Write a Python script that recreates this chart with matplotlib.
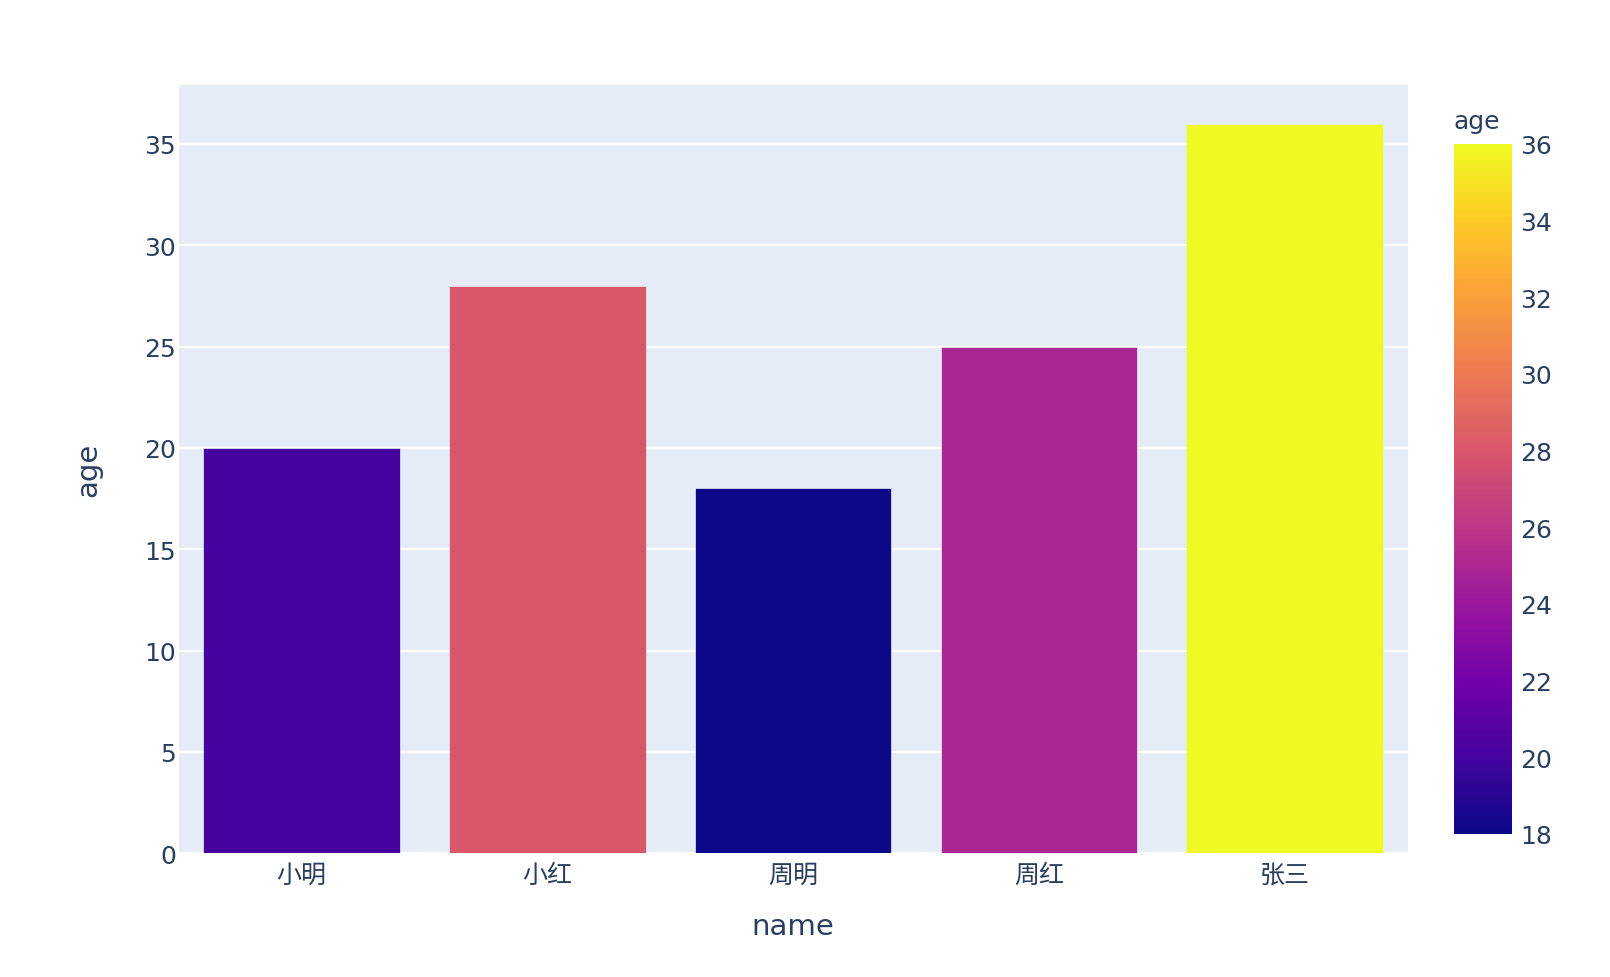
import matplotlib.pyplot as plt
import matplotlib as mpl
import numpy as np
from matplotlib.colors import LinearSegmentedColormap, Normalize

plt.rcParams['font.family'] = ['DejaVu Sans', 'Noto Sans CJK SC']

names = ['小明', '小红', '周明', '周红', '张三']
ages = [20, 28, 18, 25, 36]

# plotly's plasma scale
plasma_stops = ["#0d0887", "#46039f", "#7201a8", "#9c179e", "#bd3786",
                "#d8576b", "#ed7953", "#fb9f3a", "#fdca26", "#f0f921"]
cmap = LinearSegmentedColormap.from_list('plotly_plasma', plasma_stops)
norm = Normalize(vmin=min(ages), vmax=max(ages))

text_col = '#2a3f5f'
bg = '#e5ecf6'

fig = plt.figure(figsize=(16.1, 9.78), dpi=100)
ax = fig.add_axes([0.111, 0.1265, 0.7633, 0.7854])
ax.set_facecolor(bg)

x = np.arange(len(names))
ax.bar(x, ages, width=0.8, color=cmap(norm(ages)), edgecolor=bg, linewidth=0.5, zorder=3)

ax.set_xlim(-0.5, len(names) - 0.5)
ax.set_ylim(0, max(ages) * 1.0526)
ax.set_yticks(np.arange(0, 36, 5))
ax.set_xticks(x)
ax.set_xticklabels(names)
ax.grid(axis='y', color='white', linewidth=1.6, zorder=1)
ax.set_axisbelow(True)
for s in ax.spines.values():
    s.set_visible(False)
ax.tick_params(axis='both', length=0, labelsize=18, colors=text_col)
ax.tick_params(axis='y', pad=2)
ax.tick_params(axis='x', pad=7)

ax.set_xlabel('name', fontsize=21, color=text_col, labelpad=18)
ax.set_ylabel('age', fontsize=21, color=text_col, labelpad=30)

cax = fig.add_axes([0.9031, 0.1464, 0.036, 0.7055])
cb = fig.colorbar(mpl.cm.ScalarMappable(norm=norm, cmap=cmap), cax=cax)
cb.outline.set_visible(False)
cb.set_ticks(np.arange(18, 37, 2))
cax.tick_params(length=0, labelsize=18, colors=text_col, pad=6)
cax.text(0.0, 1.015, 'age', transform=cax.transAxes, fontsize=18,
         color=text_col, ha='left', va='bottom')

fig.savefig('out.png', dpi=100, facecolor='white')
